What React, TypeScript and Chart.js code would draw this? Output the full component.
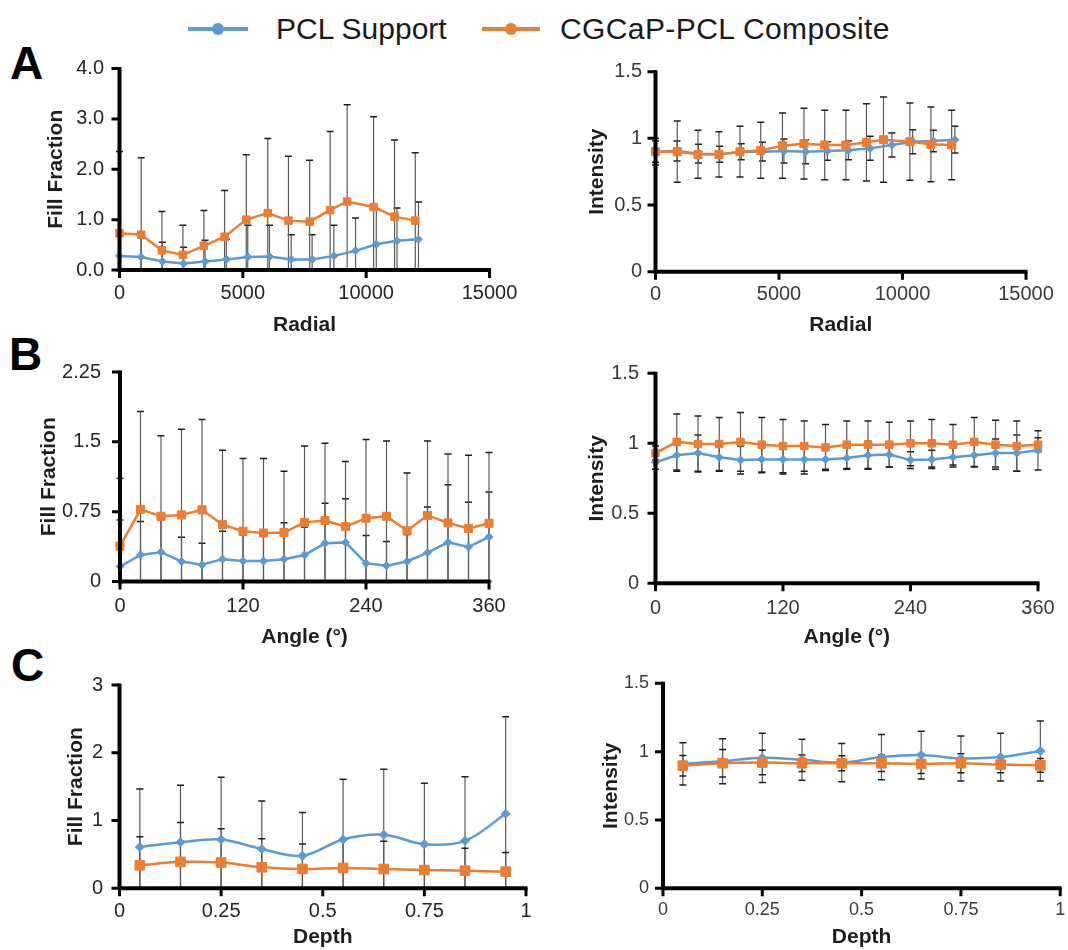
import React, { useEffect, useRef } from 'react';
import { Chart, registerables } from 'chart.js';

Chart.register(...registerables);

const BLUE = '#5B9BD5';
const ORANGE = '#ED7D31';
const FONT = "'Liberation Sans', Arial, sans-serif";

// ---------------- DATA ----------------
const seriesNames = ['PCL Support', 'CGCaP-PCL Composite'];

// A: radial position
const radialBlueX = [0, 870, 1740, 2600, 3470, 4330, 5200, 6080, 6960, 7810, 8690, 9570, 10410, 11250, 12120];
const radialOrangeX = [0, 880, 1720, 2570, 3420, 4260, 5140, 6010, 6850, 7710, 8540, 9230, 10300, 11150, 11990];
const aFillBlue = [0.28, 0.26, 0.17, 0.13, 0.17, 0.21, 0.26, 0.27, 0.21, 0.21, 0.28, 0.38, 0.51, 0.58, 0.61];
const aFillBlueErr = [0.4, 0.45, 0.38, 0.32, 0.42, 0.4, 0.63, 0.62, 0.49, 0.49, 0.61, 0.65, 0.7, 0.65, 0.74];
const aFillOrange = [0.73, 0.7, 0.39, 0.3, 0.48, 0.66, 1.0, 1.13, 0.98, 0.96, 1.19, 1.36, 1.25, 1.06, 0.98];
const aFillOrangeErr = [1.62, 1.53, 0.77, 0.59, 0.7, 0.92, 1.29, 1.48, 1.28, 1.22, 1.56, 1.92, 1.79, 1.52, 1.35];
const aIntBlue = [0.9, 0.905, 0.885, 0.88, 0.9, 0.9, 0.905, 0.9, 0.905, 0.91, 0.925, 0.95, 0.975, 0.98, 0.99];
const aIntBlueErr = [0.08, 0.075, 0.07, 0.06, 0.06, 0.07, 0.09, 0.09, 0.07, 0.07, 0.09, 0.09, 0.09, 0.08, 0.1];
const aIntOrange = [0.9, 0.9, 0.88, 0.88, 0.9, 0.91, 0.945, 0.96, 0.95, 0.95, 0.97, 0.99, 0.975, 0.955, 0.95];
const aIntOrangeErr = [0.1, 0.23, 0.18, 0.17, 0.19, 0.21, 0.245, 0.265, 0.26, 0.26, 0.29, 0.32, 0.29, 0.28, 0.26];

// B: angle
const angles = [0, 20, 40, 60, 80, 100, 120, 140, 160, 180, 200, 220, 240, 260, 280, 300, 320, 340, 360];
const bFillBlue = [0.16, 0.285, 0.315, 0.215, 0.18, 0.24, 0.22, 0.22, 0.24, 0.285, 0.41, 0.42, 0.195, 0.17, 0.215, 0.31, 0.42, 0.37, 0.48];
const bFillBlueErr = [0.5, 0.36, 0.35, 0.26, 0.23, 0.3, 0.28, 0.28, 0.39, 0.3, 0.43, 0.47, 0.3, 0.26, 0.29, 0.49, 0.62, 0.48, 0.48];
const bFillOrange = [0.38, 0.775, 0.7, 0.715, 0.77, 0.61, 0.54, 0.52, 0.525, 0.635, 0.655, 0.59, 0.68, 0.7, 0.545, 0.71, 0.63, 0.57, 0.625];
const bFillOrangeErr = [0.73, 1.05, 0.865, 0.92, 0.97, 0.8, 0.78, 0.8, 0.66, 0.82, 0.83, 0.7, 0.845, 0.81, 0.62, 0.8, 0.74, 0.785, 0.76];
const bIntBlue = [0.865, 0.915, 0.93, 0.9, 0.88, 0.885, 0.885, 0.885, 0.885, 0.895, 0.915, 0.92, 0.88, 0.885, 0.9, 0.915, 0.93, 0.93, 0.95];
const bIntBlueErr = [0.05, 0.115, 0.13, 0.1, 0.1, 0.095, 0.105, 0.105, 0.07, 0.08, 0.1, 0.09, 0.06, 0.065, 0.07, 0.085, 0.1, 0.13, 0.14];
const bIntOrange = [0.93, 1.01, 0.995, 0.995, 1.01, 0.99, 0.98, 0.98, 0.97, 0.99, 0.99, 0.99, 1.0, 1.0, 0.99, 1.01, 0.99, 0.98, 0.99];
const bIntOrangeErr = [0.05, 0.2, 0.2, 0.19, 0.21, 0.195, 0.19, 0.18, 0.165, 0.17, 0.17, 0.16, 0.16, 0.17, 0.145, 0.175, 0.175, 0.18, 0.05];

// C: depth
const depths = [0.05, 0.15, 0.25, 0.35, 0.45, 0.55, 0.65, 0.75, 0.85, 0.95];
const cFillBlue = [0.61, 0.68, 0.72, 0.58, 0.48, 0.72, 0.79, 0.65, 0.7, 1.1];
const cFillBlueErr = [0.855, 0.84, 0.92, 0.71, 0.64, 0.89, 0.965, 0.9, 0.945, 1.43];
const cFillOrange = [0.34, 0.39, 0.38, 0.31, 0.285, 0.3, 0.285, 0.27, 0.26, 0.245];
const cFillOrangeErr = [0.42, 0.58, 0.5, 0.42, 0.37, 0.42, 0.41, 0.38, 0.33, 0.285];
const cIntBlue = [0.91, 0.93, 0.955, 0.94, 0.92, 0.96, 0.975, 0.95, 0.96, 1.005];
const cIntBlueErr = [0.155, 0.165, 0.18, 0.15, 0.14, 0.165, 0.175, 0.165, 0.175, 0.22];
const cIntOrange = [0.897, 0.915, 0.92, 0.915, 0.915, 0.915, 0.91, 0.915, 0.905, 0.9];
const cIntOrangeErr = [0.075, 0.1, 0.09, 0.06, 0.055, 0.06, 0.07, 0.07, 0.06, 0.05];

// tick values / labels
const radialTicks = [0, 5000, 10000, 15000];
const radialTickLabels = ['0', '5000', '10000', '15000'];
const angleTicks = [0, 120, 240, 360];
const angleTickLabels = ['0', '120', '240', '360'];
const depthTicks = [0, 0.25, 0.5, 0.75, 1];
const depthTickLabels = ['0', '0.25', '0.5', '0.75', '1'];
const aFillTicks = [0, 1, 2, 3, 4];
const aFillTickLabels = ['0.0', '1.0', '2.0', '3.0', '4.0'];
const bFillTicks = [0, 0.75, 1.5, 2.25];
const bFillTickLabels = ['0', '0.75', '1.5', '2.25'];
const cFillTicks = [0, 1, 2, 3];
const cFillTickLabels = ['0', '1', '2', '3'];
const intTicks = [0, 0.5, 1, 1.5];
const intTickLabels = ['0', '0.5', '1', '1.5'];

// ---------------- LAYOUT ----------------
type Box = { x: number; y: number; w: number; h: number };
type Plot = { L: number; T: number; R: number; B: number };

const pts = (xs: number[], ys: number[]) => xs.map((x, i) => ({ x, y: ys[i] }));

const panels: any[] = [
  {
    key: 'A1', box: { x: 0, y: 55, w: 534, h: 290 }, plot: { L: 119.5, T: 68.5, R: 489.5, B: 270 },
    yTitle: 'Fill Fraction', xTitle: 'Radial', yTitleX: 56, xTitleY: 325, yLabelRight: 104, xPad: 5,
    xTicks: radialTicks, xLabels: radialTickLabels, yTicks: aFillTicks, yLabels: aFillTickLabels,
    blue: pts(radialBlueX, aFillBlue), blueErr: aFillBlueErr, orange: pts(radialOrangeX, aFillOrange), orangeErr: aFillOrangeErr,
    tension: 0, oR: 5.3, bR: 4, tickFont: 20, tickColor: '#262626',
  },
  {
    key: 'A2', box: { x: 534, y: 55, w: 534, h: 290 }, plot: { L: 655.5, T: 71.7, R: 1026, B: 271.7 },
    yTitle: 'Intensity', xTitle: 'Radial', yTitleX: 597, xTitleY: 325, yLabelRight: 642, xPad: 5,
    xTicks: radialTicks, xLabels: radialTickLabels, yTicks: intTicks, yLabels: intTickLabels,
    blue: pts(radialBlueX, aIntBlue), blueErr: aIntBlueErr, orange: pts(radialOrangeX, aIntOrange), orangeErr: aIntOrangeErr,
    tension: 0, oR: 5.7, bR: 4, tickFont: 20, tickColor: '#3a3a3a',
  },
  {
    key: 'B1', box: { x: 0, y: 355, w: 534, h: 300 }, plot: { L: 120, T: 372, R: 489, B: 581.5 },
    yTitle: 'Fill Fraction', xTitle: 'Angle (°)', yTitleX: 49.5, xTitleY: 637, yLabelRight: 101, xPad: 7,
    xTicks: angleTicks, xLabels: angleTickLabels, yTicks: bFillTicks, yLabels: bFillTickLabels,
    blue: pts(angles, bFillBlue), blueErr: bFillBlueErr, orange: pts(angles, bFillOrange), orangeErr: bFillOrangeErr,
    tension: 0, oR: 5.7, bR: 4, tickFont: 20, tickColor: '#262626',
  },
  {
    key: 'B2', box: { x: 534, y: 355, w: 534, h: 300 }, plot: { L: 655.5, T: 373.3, R: 1038, B: 583.3 },
    yTitle: 'Intensity', xTitle: 'Angle (°)', yTitleX: 597, xTitleY: 637, yLabelRight: 639, xPad: 7,
    xTicks: angleTicks, xLabels: angleTickLabels, yTicks: intTicks, yLabels: intTickLabels,
    blue: pts(angles, bIntBlue), blueErr: bIntBlueErr, orange: pts(angles, bIntOrange), orangeErr: bIntOrangeErr,
    tension: 0, oR: 5.3, bR: 4, tickFont: 20, tickColor: '#3a3a3a',
  },
  {
    key: 'C1', box: { x: 0, y: 670, w: 534, h: 280 }, plot: { L: 119.5, T: 685, R: 526, B: 888.3 },
    yTitle: 'Fill Fraction', xTitle: 'Depth', yTitleX: 76.6, xTitleY: 937, yLabelRight: 103, xPad: 5,
    xTicks: depthTicks, xLabels: depthTickLabels, yTicks: cFillTicks, yLabels: cFillTickLabels,
    blue: pts(depths, cFillBlue), blueErr: cFillBlueErr, orange: pts(depths, cFillOrange), orangeErr: cFillOrangeErr,
    tension: 0.35, oR: 6.8, bR: 4.5, tickFont: 20, tickColor: '#262626',
  },
  {
    key: 'C2', box: { x: 534, y: 670, w: 534, h: 280 }, plot: { L: 663, T: 683.3, R: 1062, B: 888.3 },
    yTitle: 'Intensity', xTitle: 'Depth', yTitleX: 611, xTitleY: 937, yLabelRight: 649, xPad: 5,
    xTicks: depthTicks, xLabels: depthTickLabels, yTicks: intTicks, yLabels: intTickLabels,
    blue: pts(depths, cIntBlue), blueErr: cIntBlueErr, orange: pts(depths, cIntOrange), orangeErr: cIntOrangeErr,
    tension: 0.35, oR: 6.8, bR: 4.5, tickFont: 18, tickColor: '#3a3a3a',
  },
];

const TICK_LEN = 6;
const TITLE_SIZE = 21;
const TITLE_LH = TITLE_SIZE * 1.2;
const AXIS_W = 4;
const TICK_W = 3;

const errorBarPlugin = {
  id: 'errorBars',
  beforeDatasetsDraw(chart: any, _args: any, opts: any) {
    const { ctx, chartArea } = chart;
    const yScale = chart.scales.y;
    ctx.save();
    ctx.beginPath();
    ctx.rect(chartArea.left - 10, chartArea.top - 40, chartArea.right - chartArea.left + 20, chartArea.bottom - chartArea.top + 40);
    ctx.clip();
    const cap = opts.cap || 3.5;
    chart.data.datasets.forEach((ds: any, i: number) => {
      const meta = chart.getDatasetMeta(i);
      const errs: number[] = ds.errors || [];
      meta.data.forEach((el: any, j: number) => {
        const v = ds.data[j].y;
        const e = errs[j];
        if (e == null) return;
        const x = el.x;
        const yt = yScale.getPixelForValue(v + e);
        const yb = yScale.getPixelForValue(v - e);
        ctx.lineWidth = opts.width || 1.2;
        ctx.strokeStyle = opts.lineColor || '#555';
        ctx.beginPath();
        ctx.moveTo(x, yt);
        ctx.lineTo(x, yb);
        ctx.stroke();
        ctx.strokeStyle = opts.capColor || '#222';
        ctx.lineWidth = (opts.width || 1.2) + 0.3;
        ctx.beginPath();
        ctx.moveTo(x - cap, yt);
        ctx.lineTo(x + cap, yt);
        ctx.moveTo(x - cap, yb);
        ctx.lineTo(x + cap, yb);
        ctx.stroke();
      });
    });
    ctx.restore();
  },
};

// heavy black axis lines and outward tick marks, positioned via the chart's scales
const axisPlugin = {
  id: 'heavyAxes',
  afterDraw(chart: any) {
    const { ctx } = chart;
    const xs = chart.scales.x;
    const ys = chart.scales.y;
    const x0 = xs.getPixelForValue(xs.min);
    const x1 = xs.getPixelForValue(xs.max);
    const y0 = ys.getPixelForValue(ys.min);
    const y1 = ys.getPixelForValue(ys.max);
    ctx.save();
    ctx.strokeStyle = '#000';
    ctx.lineCap = 'butt';
    // tick marks
    ctx.lineWidth = TICK_W;
    ctx.beginPath();
    xs.ticks.forEach((t: any) => {
      const px = xs.getPixelForValue(t.value);
      ctx.moveTo(px, y0);
      ctx.lineTo(px, y0 + TICK_LEN + AXIS_W / 2);
    });
    ys.ticks.forEach((t: any) => {
      const py = ys.getPixelForValue(t.value);
      ctx.moveTo(x0, py);
      ctx.lineTo(x0 - TICK_LEN - AXIS_W / 2, py);
    });
    ctx.stroke();
    // axis lines
    ctx.lineWidth = AXIS_W;
    ctx.beginPath();
    ctx.moveTo(x0, y1 - TICK_W / 2);
    ctx.lineTo(x0, y0 + AXIS_W / 2);
    ctx.moveTo(x0 - AXIS_W / 2, y0);
    ctx.lineTo(x1 + TICK_W / 2, y0);
    ctx.stroke();
    ctx.restore();
  },
};

function PanelChart({ p }: { p: any }) {
  const ref = useRef<HTMLCanvasElement | null>(null);
  useEffect(() => {
    if (!ref.current) return;
    const box: Box = p.box;
    const plot: Plot = p.plot;
    const gridCfg = { display: false, drawTicks: false, drawOnChartArea: false };
    const borderCfg = { display: false };
    const chart = new Chart(ref.current, {
      type: 'line',
      data: {
        datasets: [
          {
            label: seriesNames[0],
            data: p.blue,
            errors: p.blueErr,
            borderColor: BLUE,
            backgroundColor: BLUE,
            borderWidth: 2.5,
            pointStyle: 'rectRot',
            pointRadius: p.bR,
            pointBackgroundColor: BLUE,
            pointBorderColor: BLUE,
            pointBorderWidth: 1,
            tension: p.tension,
            clip: false,
            order: 2,
          } as any,
          {
            label: seriesNames[1],
            data: p.orange,
            errors: p.orangeErr,
            borderColor: ORANGE,
            backgroundColor: ORANGE,
            borderWidth: 2.5,
            pointStyle: 'rect',
            pointRadius: p.oR,
            pointBackgroundColor: ORANGE,
            pointBorderColor: ORANGE,
            pointBorderWidth: 1,
            tension: p.tension,
            clip: false,
            order: 1,
          } as any,
        ],
      },
      options: {
        responsive: false,
        animation: false,
        devicePixelRatio: 1,
        layout: {
          padding: {
            left: 0,
            top: plot.T - box.y,
            right: box.x + box.w - plot.R,
            bottom: 0,
          },
        },
        plugins: {
          legend: { display: false },
          tooltip: { enabled: false },
          errorBars: { lineColor: '#5a5a5a', capColor: '#1e1e1e', width: 1.2, cap: 3.5 },
        } as any,
        scales: {
          x: {
            type: 'linear',
            min: p.xTicks[0],
            max: p.xTicks[p.xTicks.length - 1],
            afterBuildTicks: (s: any) => {
              s.ticks = p.xTicks.map((v: number) => ({ value: v }));
            },
            ticks: {
              autoSkip: false,
              maxRotation: 0,
              padding: p.xPad + TICK_LEN,
              color: p.tickColor,
              font: { family: FONT, size: p.tickFont },
              callback: (_v: any, i: number) => p.xLabels[i],
            },
            grid: gridCfg,
            border: borderCfg,
            title: {
              display: true,
              text: p.xTitle,
              color: '#1e1e1e',
              font: { family: FONT, size: TITLE_SIZE, weight: 'bold' },
              padding: { top: 0, bottom: box.y + box.h - p.xTitleY - TITLE_LH / 2 },
            },
            afterFit: (s: any) => {
              s.height = box.y + box.h - plot.B;
              s.paddingLeft = 0;
              s.paddingRight = 0;
            },
          },
          y: {
            type: 'linear',
            min: p.yTicks[0],
            max: p.yTicks[p.yTicks.length - 1],
            afterBuildTicks: (s: any) => {
              s.ticks = p.yTicks.map((v: number) => ({ value: v }));
            },
            ticks: {
              autoSkip: false,
              padding: plot.L - p.yLabelRight,
              color: p.tickColor,
              font: { family: FONT, size: p.tickFont },
              callback: (_v: any, i: number) => p.yLabels[i],
            },
            grid: gridCfg,
            border: borderCfg,
            title: {
              display: true,
              text: p.yTitle,
              color: '#1e1e1e',
              font: { family: FONT, size: TITLE_SIZE, weight: 'bold' },
              padding: { top: p.yTitleX - box.x - TITLE_LH / 2, bottom: 0 },
            },
            afterFit: (s: any) => {
              s.width = plot.L - box.x;
              s.paddingTop = 0;
              s.paddingBottom = 0;
            },
          },
        },
      } as any,
      plugins: [errorBarPlugin, axisPlugin],
    });
    return () => chart.destroy();
  }, [p]);
  return (
    <canvas
      ref={ref}
      width={p.box.w}
      height={p.box.h}
      style={{ position: 'absolute', left: p.box.x, top: p.box.y, width: p.box.w, height: p.box.h }}
    />
  );
}

const letterStyle: React.CSSProperties = {
  position: 'absolute',
  fontFamily: FONT,
  fontWeight: 'bold',
  fontSize: 46,
  lineHeight: '46px',
  color: '#000',
};

const legendText: React.CSSProperties = {
  position: 'absolute',
  fontFamily: FONT,
  fontSize: 30,
  lineHeight: '36px',
  color: '#1a1a1a',
  whiteSpace: 'nowrap',
};

export default function App() {
  return (
    <div style={{ position: 'absolute', left: 0, top: 0, width: 1068, height: 950, background: '#fff', overflow: 'hidden' }}>
      {/* legend */}
      <div style={{ position: 'absolute', left: 188, top: 27, width: 60, height: 4, background: BLUE }} />
      <div style={{ position: 'absolute', left: 212, top: 23, width: 12, height: 12, borderRadius: 6, background: BLUE }} />
      <div style={{ ...legendText, left: 276, top: 11 }}>{seriesNames[0]}</div>
      <div style={{ position: 'absolute', left: 482, top: 27, width: 58, height: 4, background: ORANGE }} />
      <div style={{ position: 'absolute', left: 505, top: 23, width: 12, height: 12, borderRadius: 6, background: ORANGE }} />
      <div style={{ ...legendText, left: 560, top: 11, letterSpacing: 0.4 }}>{seriesNames[1]}</div>

      {/* panel letters */}
      <div style={{ ...letterStyle, left: 10, top: 40 }}>A</div>
      <div style={{ ...letterStyle, left: 9, top: 331 }}>B</div>
      <div style={{ ...letterStyle, left: 11, top: 642 }}>C</div>

      {panels.map((p) => (
        <PanelChart key={p.key} p={p} />
      ))}
    </div>
  );
}
